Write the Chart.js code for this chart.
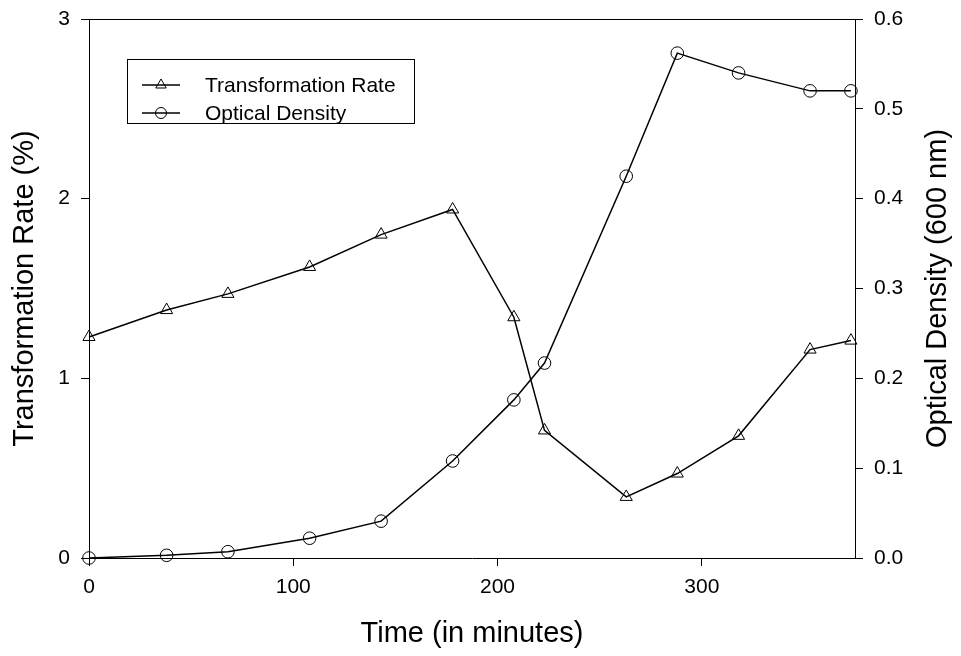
<!DOCTYPE html>
<html>
<head>
<meta charset="utf-8">
<script src="https://cdn.jsdelivr.net/npm/chart.js@4.4.0/dist/chart.umd.min.js"></script>
<style>
  html, body { margin: 0; padding: 0; background: #fff; }
  #wrap { width: 961px; height: 656px; position: relative; }
</style>
</head>
<body>
<div id="wrap"><canvas id="myChart" width="961" height="656"></canvas></div>
<script>
// values
var timeMinutes = [0, 38, 68, 108, 143, 178, 208, 223, 263, 288, 318, 353, 373];
var transformationRate = [1.23, 1.38, 1.47, 1.62, 1.80, 1.94, 1.34, 0.71, 0.34, 0.47, 0.68, 1.16, 1.21];
var opticalDensity = [0, 0.003, 0.007, 0.022, 0.041, 0.108, 0.176, 0.217, 0.425, 0.562, 0.540, 0.520, 0.520];

var xTicks = [0, 100, 200, 300];
var leftTicks = [0, 1, 2, 3];
var rightTicks = [0, 0.1, 0.2, 0.3, 0.4, 0.5, 0.6];

var seriesNames = ["Transformation Rate", "Optical Density"];
var rightTitle = "Optical Density (600 nm)";

var fontFamily = "'Liberation Sans', Arial, sans-serif";

function pairs(xs, ys) {
  return xs.map(function (x, i) { return { x: x, y: ys[i] }; });
}

function keepTicks(list) {
  return function (axis) {
    axis.ticks = list.map(function (v) { return { value: v }; });
  };
}

function fixWidth(w) {
  return function (axis) {
    axis.width = w;
    axis.paddingTop = 0;
    axis.paddingBottom = 0;
  };
}

// top frame line, right axis title and legend box inside the plot
const framePlugin = {
  id: "frame",
  afterDraw: function (chart) {
    const ctx = chart.ctx;
    const a = chart.chartArea;
    ctx.save();
    ctx.strokeStyle = "#000";
    ctx.lineWidth = 1;
    ctx.beginPath();
    ctx.moveTo(a.left, a.top + 0.5);
    ctx.lineTo(a.right, a.top + 0.5);
    ctx.stroke();

    // right title reads bottom to top
    ctx.save();
    ctx.translate(938, (a.top + a.bottom) / 2);
    ctx.rotate(-Math.PI / 2);
    ctx.font = "29px " + fontFamily;
    ctx.fillStyle = "#000";
    ctx.textAlign = "center";
    ctx.textBaseline = "middle";
    ctx.fillText(rightTitle, 0, 0);
    ctx.restore();

    // legend
    const bx = 127.5, by = 59.5, bw = 287, bh = 64;
    ctx.strokeRect(bx, by, bw, bh);
    const rows = [85, 113];
    const styles = ["triangle", "circle"];
    rows.forEach(function (y, i) {
      ctx.lineWidth = 1.5;
      ctx.beginPath();
      ctx.moveTo(142, y);
      ctx.lineTo(180, y);
      ctx.stroke();
      ctx.lineWidth = 1;
      ctx.fillStyle = "rgba(0,0,0,0)";
      Chart.helpers.drawPoint(ctx, { pointStyle: styles[i], radius: i === 0 ? 6 : 5.5, borderWidth: 1 }, 161, y);
      ctx.fillStyle = "#000";
      ctx.font = "21px " + fontFamily;
      ctx.textBaseline = "middle";
      ctx.fillText(seriesNames[i], 205, y + 1);
    });
    ctx.restore();
  }
};

new Chart("myChart", {
  type: "line",
  data: {
    datasets: [{
      label: seriesNames[0],
      data: pairs(timeMinutes, transformationRate),
      yAxisID: "yLeft",
      borderColor: "#000",
      borderWidth: 1.5,
      pointStyle: "triangle",
      pointRadius: 7,
      pointBorderWidth: 1,
      pointBorderColor: "#000",
      pointBackgroundColor: "rgba(0,0,0,0)",
      tension: 0,
      clip: false
    }, {
      label: seriesNames[1],
      data: pairs(timeMinutes, opticalDensity),
      yAxisID: "yRight",
      borderColor: "#000",
      borderWidth: 1.5,
      pointStyle: "circle",
      pointRadius: 6.3,
      pointBorderWidth: 1,
      pointBorderColor: "#000",
      pointBackgroundColor: "rgba(0,0,0,0)",
      tension: 0,
      clip: false
    }]
  },
  options: {
    responsive: false,
    animation: false,
    layout: { padding: { top: 19, left: 0, right: 0, bottom: 0 } },
    plugins: {
      legend: { display: false },
      tooltip: { enabled: false }
    },
    scales: {
      x: {
        type: "linear",
        min: 0,
        max: 375,
        afterBuildTicks: keepTicks(xTicks),
        afterFit: function (axis) { axis.height = 98; axis.paddingLeft = 0; axis.paddingRight = 0; },
        border: { display: true, color: "#000", width: 1 },
        grid: { drawOnChartArea: false, drawTicks: true, tickLength: 8, color: "#000" },
        ticks: { color: "#000", padding: 9, font: { family: fontFamily, size: 21 } },
        title: {
          display: true,
          text: "Time (in minutes)",
          color: "#000",
          padding: { top: 0, bottom: 5 },
          font: { family: fontFamily, size: 29 }
        }
      },
      yLeft: {
        type: "linear",
        position: "left",
        min: 0,
        max: 3,
        afterBuildTicks: keepTicks(leftTicks),
        afterFit: fixWidth(89),
        border: { display: true, color: "#000", width: 1 },
        grid: { drawOnChartArea: false, drawTicks: true, tickLength: 8, color: "#000" },
        ticks: { color: "#000", padding: 11, font: { family: fontFamily, size: 21 } },
        title: {
          display: true,
          text: "Transformation Rate (%)",
          color: "#000",
          padding: { top: 8, bottom: 0 },
          font: { family: fontFamily, size: 29 }
        }
      },
      yRight: {
        type: "linear",
        position: "right",
        min: 0,
        max: 0.6,
        afterBuildTicks: keepTicks(rightTicks),
        afterFit: fixWidth(106),
        border: { display: true, color: "#000", width: 1 },
        grid: { drawOnChartArea: false, drawTicks: true, tickLength: 8, color: "#000" },
        ticks: {
          color: "#000",
          padding: 11,
          font: { family: fontFamily, size: 21 },
          callback: function (v) { return Number(v).toFixed(1); }
        }
      }
    }
  },
  plugins: [framePlugin]
});
</script>
</body>
</html>
